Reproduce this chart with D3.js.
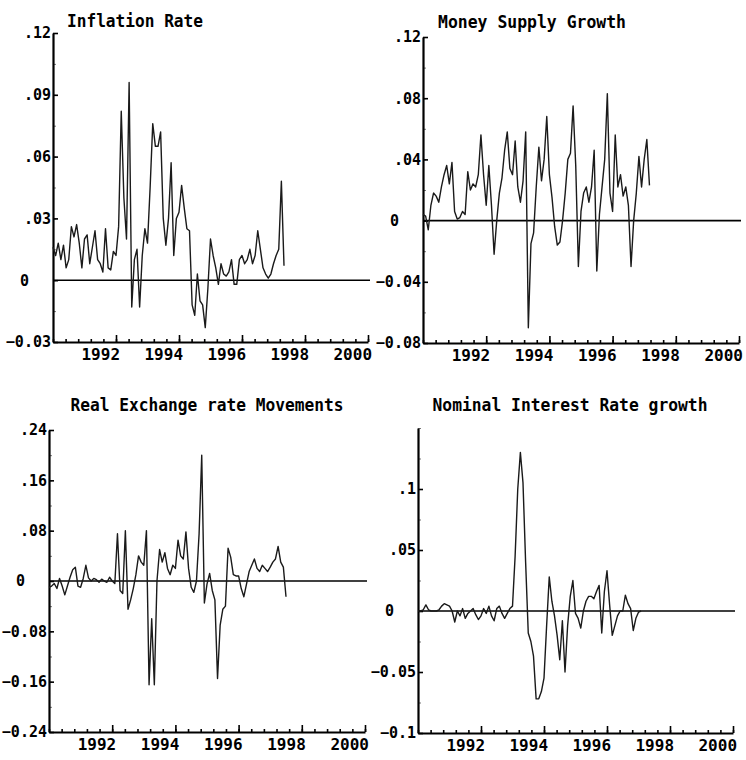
<!DOCTYPE html>
<html>
<head>
<meta charset="utf-8">
<script src="https://cdn.jsdelivr.net/npm/d3@7"></script>
<style>
  body { margin: 0; background: #fff; }
  svg text { font-family: "DejaVu Sans Mono", monospace; font-weight: bold; fill: #000; }
</style>
</head>
<body>
<svg width="746" height="760"></svg>
<script>
// monthly observations, first one at mid 1990
const startYear = 1990.5;
const yearLabels = [1992, 1994, 1996, 1998, 2000];

const titles = ["Inflation Rate", "Money Supply Growth", "Real Exchange rate Movements", "Nominal Interest Rate growth"];

const inflation = [
  .016, .012, .018, .010, .017, .006, .010, .026, .021, .027,
  .018, .006, .020, .022, .008, .016, .024, .010, .008, .004,
  .025, .006, .005, .014, .012, .026, .082, .040, .020, .096,
  -.013, .010, .015, -.013, .012, .025, .018, .045, .076, .065,
  .065, .072, .030, .017, .030, .057, .012, .030, .033, .046,
  .035, .025, .024, -.012, -.017, .003, -.010, -.012, -.023, -.004,
  .020, .012, .006, -.002, .008, .003, .002, .004, .010, -.002,
  -.002, .010, .012, .008, .010, .015, .008, .012, .024, .015,
  .006, .003, .001, .003, .008, .012, .015, .048, .007
];

const moneyGrowth = [
  .004, .003, -.006, .010, .018, .016, .012, .022, .030, .036,
  .024, .038, .006, .001, .002, .006, .004, .032, .020, .024,
  .022, .030, .056, .030, .010, .036, .010, -.022, .000, .018,
  .028, .046, .058, .034, .030, .052, .022, .012, .026, .058,
  -.070, -.015, -.008, .022, .048, .026, .040, .068, .030, .015,
  -.004, -.016, -.014, .000, .018, .040, .044, .075, .036, -.030,
  .006, .018, .022, .012, .022, .046, -.033, .004, .022, .040,
  .083, .018, .006, .056, .022, .030, .016, .022, .010, -.030,
  .000, .018, .042, .022, .040, .053, .023
];

const realExchange = [
  -.010, -.008, -.004, -.012, .004, -.008, -.022, -.008, .006, .018,
  .022, -.008, -.010, .004, .025, .005, .000, .004, .002, -.002,
  .003, .000, -.002, .006, .000, -.004, .075, -.015, -.020, .080,
  -.045, -.030, -.012, .010, .040, .030, .025, .080, -.165, -.060,
  -.165, .000, .050, .030, .045, .020, .010, .025, .020, .065,
  .040, .035, .078, .020, -.010, -.018, .000, .075, .200, -.035,
  -.005, .012, -.015, -.030, -.155, -.070, -.045, -.040, .052, .038,
  .010, .008, .008, -.012, -.025, -.005, .015, .025, .035, .020,
  .015, .025, .020, .015, .022, .030, .035, .055, .030, .022,
  -.025
];

const interestGrowth = [
  .000, .000, .001, .005, .001, .000, .000, .000, .001, .004,
  .006, .005, .004, .000, -.009, .000, -.004, .002, -.006, -.002,
  .000, .002, -.003, -.007, -.004, .002, -.002, .004, -.004, -.008,
  .002, .004, -.002, -.006, -.002, .002, .004, .045, .100, .130,
  .105, .040, -.018, -.025, -.037, -.072, -.072, -.066, -.055, -.012,
  .028, .008, -.004, -.020, -.040, -.008, -.050, -.012, .012, .025,
  -.002, -.006, -.014, .000, .008, .012, .012, .010, .016, .021,
  -.018, .016, .033, .005, -.020, -.012, -.004, .000, .000, .013,
  .006, .002, -.016, -.006, -.001, .000
];

const inflationTicks = [-.03, 0, .03, .06, .09, .12];
const moneyTicks = [-.08, -.04, 0, .04, .08, .12];
const exchangeTicks = [-.24, -.16, -.08, 0, .08, .16, .24];
const interestTicks = [-.1, -.05, 0, .05, .1];

const svg = d3.select("svg");

const panels = [
  { title: titles[0], data: inflation, ticks: inflationTicks, step: .015, domain: [-.03, .12],
    left: 53, right: 368, top: 33, bottom: 342, titleX: 135, titleY: 27, titleW: 136 },
  { title: titles[1], data: moneyGrowth, ticks: moneyTicks, step: .02, domain: [-.08, .12],
    left: 423, right: 739, top: 37, bottom: 343, titleX: 532, titleY: 28, titleW: 188 },
  { title: titles[2], data: realExchange, ticks: exchangeTicks, step: .04, domain: [-.24, .24],
    left: 49, right: 365, top: 430, bottom: 732, titleX: 207, titleY: 411, titleW: 273 },
  { title: titles[3], data: interestGrowth, ticks: interestTicks, step: .025, domain: [-.1, .15],
    left: 418, right: 733, top: 428, bottom: 733, titleX: 570, titleY: 411, titleW: 275 }
];

const fmt = v => v === 0 ? "0" : d3.format(".2~f")(v).replace(/^(-?)0\./, "$1.");

panels.forEach(p => {
  const g = svg.append("g");

  const x = d3.scaleLinear().domain([startYear, startYear + 10]).range([p.left, p.right]);
  const y = d3.scaleLinear().domain(p.domain).range([p.bottom, p.top]);

  // minor y ticks halfway between the labelled ones
  const n = Math.round((p.domain[1] - p.domain[0]) / p.step);
  const minorY = d3.range(n + 1).map(k => p.domain[0] + k * p.step);

  g.append("g")
      .attr("transform", "translate(" + p.left + ",0)")
      .call(d3.axisRight(y).tickValues(minorY).tickSize(3).tickSizeOuter(0).tickFormat(""))
      .call(a => a.select(".domain").remove())
      .selectAll("line").attr("stroke", "#777").attr("stroke-width", 1);

  g.append("g")
      .attr("transform", "translate(" + p.left + ",0)")
      .call(d3.axisRight(y).tickValues(p.ticks).tickSize(5).tickSizeOuter(0).tickFormat(""))
      .call(a => a.select(".domain").attr("stroke-width", 2.2))
      .selectAll("line").attr("stroke-width", 1.6);

  const yl = g.append("g")
      .attr("transform", "translate(" + p.left + ",0)")
      .call(d3.axisLeft(y).tickValues(p.ticks).tickSize(0).tickPadding(2).tickFormat(fmt));
  yl.select(".domain").remove();
  yl.selectAll("text").style("font-size", "15px").attr("font-family", null);
  yl.selectAll(".tick").filter(d => d === 0).select("text").attr("x", -24);

  // x axis: small marks every 0.4 year, taller every two years
  const minorX = d3.range(26).map(k => startYear + k * 0.4);
  const majorX = d3.range(1, 6).map(k => startYear + 2 * k);

  g.append("g")
      .attr("transform", "translate(0," + p.bottom + ")")
      .call(d3.axisTop(x).tickValues(minorX).tickSize(3).tickSizeOuter(0).tickFormat(""))
      .call(a => a.select(".domain").attr("stroke-width", 2.2))
      .selectAll("line").attr("stroke-width", 1.6);

  g.append("g")
      .attr("transform", "translate(0," + p.bottom + ")")
      .call(d3.axisTop(x).tickValues(majorX).tickSize(7).tickSizeOuter(0).tickFormat(""))
      .call(a => a.select(".domain").remove())
      .selectAll("line").attr("stroke-width", 1.6);

  const xl = g.append("g")
      .attr("transform", "translate(0," + p.bottom + ")")
      .call(d3.axisBottom(x).tickValues(yearLabels).tickSize(0).tickPadding(7).tickFormat(d3.format("d")));
  xl.select(".domain").remove();
  xl.selectAll("text").style("font-size", "16px").attr("font-family", null);

  // zero reference line
  g.append("line")
      .attr("x1", x(startYear)).attr("x2", x(startYear + 10) + 2)
      .attr("y1", y(0)).attr("y2", y(0))
      .attr("stroke", "#000").attr("stroke-width", 1.6);

  const line = d3.line()
      .x((d, i) => x(startYear + i / 12))
      .y(d => y(d));

  g.append("path")
      .datum(p.data)
      .attr("fill", "none")
      .attr("stroke", "#1a1a1a")
      .attr("stroke-width", 1.4)
      .attr("stroke-linejoin", "round")
      .attr("d", line);

  // title, stretched a little taller like the original bitmap font
  g.append("text")
      .attr("transform", "translate(" + p.titleX + "," + p.titleY + ") scale(1,1.15)")
      .attr("text-anchor", "middle")
      .attr("textLength", p.titleW)
      .attr("lengthAdjust", "spacingAndGlyphs")
      .style("font-size", "16px")
      .text(p.title);
});
</script>
</body>
</html>
